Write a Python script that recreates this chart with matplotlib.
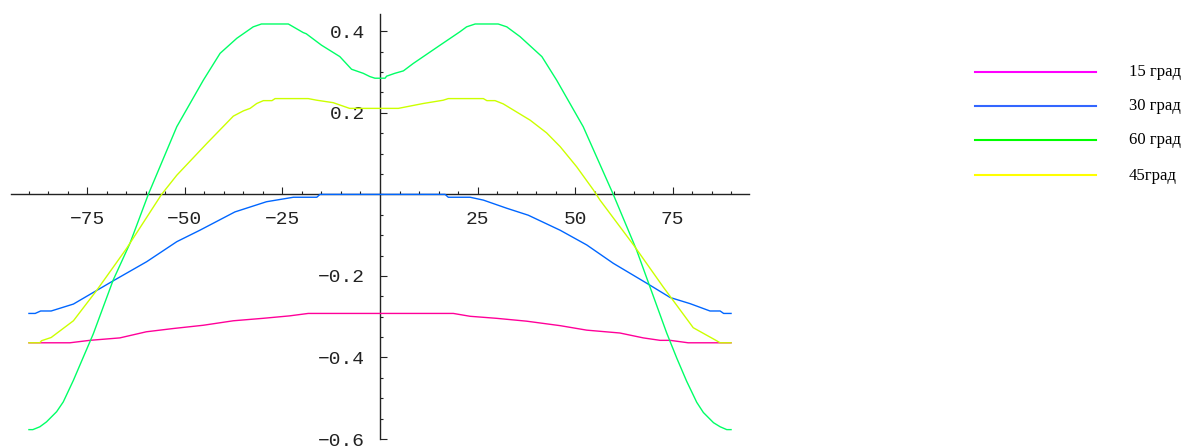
import matplotlib
matplotlib.use("Agg")
import matplotlib.pyplot as plt
from matplotlib.lines import Line2D
from matplotlib.ticker import MultipleLocator, FixedLocator

# ---- data (angle in degrees, value) ----
x15 = [-90, -79.5, -74.4, -66.7, -59.9, -53, -45.3, -37.6, -30, -23.2, -18.4, 0,
       18.8, 23.1, 29.9, 37.6, 46.2, 53, 61.5, 67.5, 71.8, 74.4, 79, 90]
y15 = [-0.364, -0.364, -0.358, -0.352, -0.337, -0.329, -0.321, -0.310, -0.304, -0.298, -0.292, -0.292,
       -0.292, -0.299, -0.304, -0.311, -0.322, -0.333, -0.340, -0.352, -0.358, -0.358, -0.364, -0.364]

x30 = [-90, -88.4, -87, -84.3, -78.6, -68.4, -59.8, -52.1, -46.2, -37.2, -29.1, -22.2, -16.2, -15.4, 0,
       16.7, 17.5, 23.1, 26.5, 32.5, 38, 46.2, 53, 59.8, 68.4, 74.4, 79.5, 84.6, 87.2, 88.1, 90]
y30 = [-0.292, -0.292, -0.286, -0.286, -0.269, -0.212, -0.165, -0.116, -0.088, -0.043, -0.018, -0.007, -0.007, 0.0, 0.0,
       0.0, -0.007, -0.007, -0.014, -0.034, -0.051, -0.088, -0.124, -0.169, -0.218, -0.253, -0.268, -0.286, -0.286, -0.292, -0.292]

x60 = [-90, -89, -87.2, -85.5, -82.9, -81.2, -78.6, -76.1, -73.5, -68.4, -64.1, -59.4, -52.1, -45.3, -41, -36.7, -32.5,
       -30.4, -23.5, -19.7, -18.9, -15, -10.3, -7.3, -4.3, -2.6, -1.3, 0,
       1.3, 1.7, 3.8, 6, 8.5, 15.4, 20.5, 22.2, 24.4, 30.3, 32.5, 35.9, 41.5, 45.3, 52.1, 59.8,
       65.8, 73.5, 76.1, 78.6, 81.2, 82.9, 85.5, 87.2, 88.9, 90]
y60 = [-0.577, -0.577, -0.570, -0.558, -0.533, -0.509, -0.456, -0.400, -0.342, -0.210, -0.120, 0.0, 0.166, 0.280, 0.346, 0.383, 0.411,
       0.418, 0.418, 0.397, 0.394, 0.366, 0.338, 0.307, 0.297, 0.289, 0.285, 0.285,
       0.285, 0.290, 0.297, 0.303, 0.321, 0.366, 0.399, 0.411, 0.418, 0.418, 0.411, 0.387, 0.338, 0.280, 0.166, 0.0,
       -0.137, -0.340, -0.402, -0.458, -0.510, -0.535, -0.560, -0.570, -0.577, -0.577]

x45 = [-90, -87.2, -86.8, -84.3, -78.6, -72.6, -65, -56, -52.1, -44.4, -37.6, -35, -33.3, -31.6, -29.9, -27.7, -26.9,
       -18.4, -16.2, -12, -7.8, 0,
       4.7, 11.1, 16.2, 17.5, 26.5, 27.4, 29.5, 31.6, 38.5, 42.7, 46.2, 50.4, 54.7, 56.4, 65, 72.6,
       80.3, 86.3, 87.2, 90]
y45 = [-0.364, -0.364, -0.359, -0.351, -0.310, -0.235, -0.133, 0.0, 0.047, 0.125, 0.192, 0.205, 0.211, 0.223, 0.230, 0.230, 0.235,
       0.235, 0.231, 0.225, 0.211, 0.211,
       0.211, 0.223, 0.231, 0.235, 0.235, 0.230, 0.230, 0.222, 0.182, 0.151, 0.117, 0.068, 0.011, -0.014, -0.124, -0.227,
       -0.327, -0.359, -0.364, -0.364]

xticks = [-75, -50, -25, 25, 50, 75]
yticks = [-0.6, -0.4, -0.2, 0.2, 0.4]
legend_labels = ["15 град", "30 град", "60 град", "45град"]

line_colors = {"15": "#FF0099", "30": "#0066FF", "60": "#00FF66", "45": "#CCFF00"}
legend_colors = ["#FF00FF", "#3366FF", "#00FF00", "#FFFF00"]

W, H = 1187, 448
fig = plt.figure(figsize=(W / 100, H / 100), dpi=100)
ax = fig.add_axes([11 / W, 9 / H, 738 / W, 425 / H])
ax.set_xlim(-94.6, 94.6)
ax.set_ylim(-0.6, 0.4425)

ax.plot(x15, y15, color=line_colors["15"], lw=1.0)
ax.plot(x30, y30, color=line_colors["30"], lw=1.0)
ax.plot(x60, y60, color=line_colors["60"], lw=1.0)
ax.plot(x45, y45, color=line_colors["45"], lw=1.0)

for s in ["top", "right"]:
    ax.spines[s].set_visible(False)
ax.spines["left"].set_position(("data", 0))
ax.spines["bottom"].set_position(("data", 0))
for s in ["left", "bottom"]:
    ax.spines[s].set_color("#222222")
    ax.spines[s].set_linewidth(1.0)
    ax.spines[s].set_zorder(0.5)

def fmt(v, nd=0):
    s = f"{v:.{nd}f}"
    return s.replace("-", "\u2212")

ax.xaxis.set_major_locator(FixedLocator(xticks))
ax.xaxis.set_minor_locator(MultipleLocator(5))
ax.yaxis.set_major_locator(FixedLocator(yticks))
ax.yaxis.set_minor_locator(MultipleLocator(0.05))
ax.set_xticklabels([fmt(v) for v in xticks])
ax.set_yticklabels([fmt(v, 1) for v in yticks])

tick_font = "Liberation Mono"
ax.tick_params(axis="both", which="major", direction="in", length=5, width=0.8,
               color="#222222", labelsize=14, labelcolor="#222222")
ax.tick_params(axis="both", which="minor", direction="in", length=2.5, width=0.8, color="#222222")
ax.tick_params(axis="x", which="major", pad=12)
ax.tick_params(axis="y", which="major", pad=11)
for lab in ax.get_xticklabels() + ax.get_yticklabels():
    lab.set_family([tick_font, "DejaVu Sans Mono"])

# legend drawn in figure pixel coordinates
leg_y = [72, 106.5, 140.5, 175.5]
for yy, c, lab in zip(leg_y, legend_colors, legend_labels):
    fy = 1 - yy / H
    fig.add_artist(Line2D([975 / W, 1096 / W], [fy, fy], color=c, lw=1.5,
                          transform=fig.transFigure))
    fig.text(1129 / W, fy, lab, family=["Liberation Serif", "DejaVu Serif"],
             fontsize=12, va="center", ha="left", color="black")

fig.savefig("out.png", dpi=100)
